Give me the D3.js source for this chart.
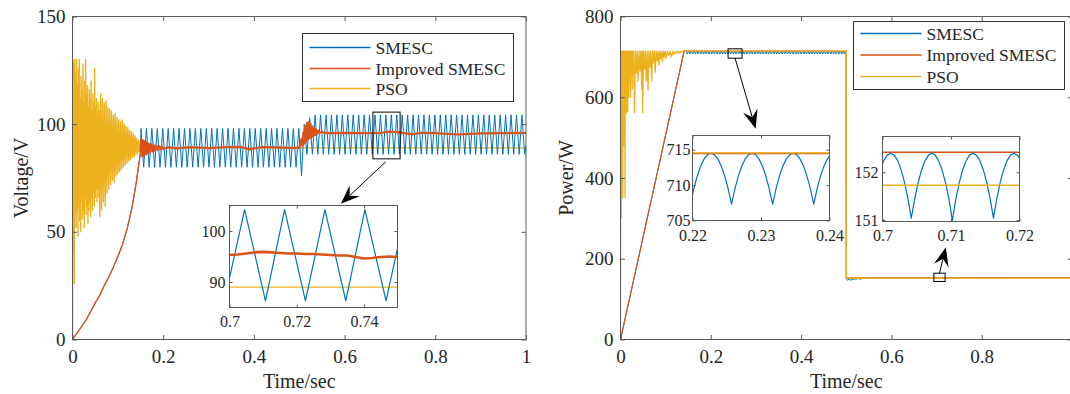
<!DOCTYPE html>
<html>
<head>
<meta charset="utf-8">
<script src="https://cdn.jsdelivr.net/npm/d3@7"></script>
<style>
  body { margin: 0; background: #fff; }
  svg { display: block; font-family: "Liberation Serif", "Times New Roman", serif; }
</style>
</head>
<body>
<svg id="chart" width="1070" height="394"></svg>
<script>
// ---------- data ----------
const seriesNames = ['SMESC', 'Improved SMESC', 'PSO'];

// left: voltage (V) vs time (s)
const voltXTicks = [0, 0.2, 0.4, 0.6, 0.8, 1];
const voltYTicks = [0, 50, 100, 150];
const voltRise = [[0,0],[0.01,3],[0.02,6],[0.03,9],[0.04,13],[0.05,17],[0.06,20.5],[0.07,25],[0.08,29],
  [0.09,33.5],[0.1,38.5],[0.11,44],[0.12,51],[0.13,60],[0.14,72],[0.148,84],[0.15,87]];
const smescVolt = [[0.151,98],[0.157,80],[0.163,98],[0.169,80],[0.175,98],[0.181,80],[0.187,98],[0.193,80],
  [0.199,98],[0.205,80],[0.211,98],[0.217,80],[0.223,98],[0.229,80],[0.235,98],[0.241,80],[0.247,98],[0.253,80],
  [0.259,98],[0.265,80],[0.271,98],[0.277,80],[0.283,98],[0.289,80],[0.295,98],[0.301,80],[0.307,98],[0.313,80],
  [0.319,98],[0.325,80],[0.331,98],[0.337,80],[0.343,98],[0.349,80],[0.355,98],[0.361,80],[0.367,98],[0.373,80],
  [0.379,98],[0.385,80],[0.391,98],[0.397,80],[0.403,98],[0.409,80],[0.415,98],[0.421,80],[0.427,98],[0.433,80],
  [0.439,98],[0.445,80],[0.451,98],[0.457,80],[0.463,98],[0.469,80],[0.475,98],[0.481,80],[0.487,98],[0.493,80],
  [0.499,98],[0.505,76],[0.511,100],[0.517,86],[0.523,103],[0.529,86],[0.535,104.3],[0.541,86],[0.547,104.3],
  [0.553,86],[0.559,104.3],[0.565,86],[0.571,104.3],[0.577,86],[0.583,104.3],[0.589,86],[0.595,104.3],[0.601,86],
  [0.607,104.3],[0.613,86],[0.619,104.3],[0.625,86],[0.631,104.3],[0.637,86],[0.643,104.3],[0.649,86],[0.655,104.3],
  [0.661,86],[0.667,104.3],[0.673,86],[0.679,104.3],[0.685,86],[0.691,104.3],[0.697,86],[0.703,104.3],[0.709,86],
  [0.715,104.3],[0.721,86],[0.727,104.3],[0.733,86],[0.739,104.3],[0.745,86],[0.751,104.3],[0.757,86],[0.763,104.3],
  [0.769,86],[0.775,104.3],[0.781,86],[0.787,104.3],[0.793,86],[0.799,104.3],[0.805,86],[0.811,104.3],[0.817,86],
  [0.823,104.3],[0.829,86],[0.835,104.3],[0.841,86],[0.847,104.3],[0.853,86],[0.859,104.3],[0.865,86],[0.871,104.3],
  [0.877,86],[0.883,104.3],[0.889,86],[0.895,104.3],[0.901,86],[0.907,104.3],[0.913,86],[0.919,104.3],[0.925,86],
  [0.931,104.3],[0.937,86],[0.943,104.3],[0.949,86],[0.955,104.3],[0.961,86],[0.967,104.3],[0.973,86],[0.979,104.3],
  [0.985,86],[0.991,104.3],[0.997,86],[1,90]];
const impVolt = [[0.15,87],[0.152,93],[0.154,85],[0.156,92.5],[0.158,85.5],[0.16,92],[0.162,86],[0.164,91.5],[0.166,86.5],
  [0.168,91],[0.17,87],[0.173,90.6],[0.176,87.4],[0.179,90.3],[0.182,87.7],[0.185,90],[0.188,88],[0.191,89.8],
  [0.194,88.3],[0.197,89.6],[0.2,88.5],[0.21,89.3],[0.23,88.8],[0.26,89.3],[0.3,88.9],[0.34,89.4],[0.37,89.5],
  [0.39,88.3],[0.4,88.7],[0.42,89.4],[0.45,89.2],[0.48,89],[0.5,89],[0.502,90.5],[0.505,93],[0.507,90],[0.509,96],
  [0.511,91],[0.513,99],[0.515,92],[0.517,100.5],[0.519,93],[0.521,101],[0.523,93.5],[0.525,100],[0.527,94],
  [0.529,99],[0.531,94.5],[0.533,98],[0.535,95],[0.537,97.5],[0.539,95.3],[0.541,97],[0.545,96],[0.55,96.3],
  [0.56,95.8],[0.6,96],[0.65,95.8],[0.68,96],[0.7,96.5],[0.72,96.2],[0.75,95.3],[0.77,96],[0.8,95.8],[0.85,95.2],
  [0.9,95.7],[0.95,95.8],[1,96]];
const psoVolt = [[0,0],[0.001,130],[0.002,40],[0.003,128],[0.004,26],[0.005,130],[0.006,58],[0.007,124],[0.008,52],
  [0.009,130],[0.01,60],[0.011,118],[0.012,48],[0.013,126],[0.014,62],[0.015,130],[0.016,55],[0.017,112],[0.018,50],
  [0.019,122],[0.02,64],[0.021,116],[0.022,56],[0.023,128],[0.024,60],[0.025,110],[0.026,52],[0.027,120],[0.028,66],
  [0.029,130],[0.03,58],[0.031,114],[0.032,62],[0.033,118],[0.034,54],[0.035,108],[0.036,60],[0.037,116],[0.038,64],
  [0.039,112],[0.04,57],[0.041,120],[0.042,66],[0.043,106],[0.044,60],[0.045,114],[0.046,68],[0.047,110],[0.048,62],
  [0.049,126],[0.05,66],[0.051,108],[0.052,70],[0.053,112],[0.054,64],[0.055,104],[0.056,70],[0.057,110],[0.058,66],
  [0.059,106],[0.06,57],[0.062,114],[0.064,60],[0.066,112],[0.068,64],[0.07,110],[0.072,62],[0.074,111],[0.076,68],
  [0.078,108],[0.08,70],[0.082,107],[0.084,72],[0.086,106],[0.088,74],[0.09,104],[0.092,73],[0.094,105],[0.096,76],
  [0.098,103],[0.1,77],[0.102,102],[0.104,78],[0.106,101],[0.108,79],[0.11,102],[0.112,80],[0.114,100],[0.116,81],
  [0.118,99],[0.12,82],[0.122,98.5],[0.124,83],[0.126,97],[0.128,83.5],[0.13,96.5],[0.132,84.5],[0.134,95.5],
  [0.136,85],[0.138,94.5],[0.14,86],[0.142,93.5],[0.144,86.5],[0.146,92.5],[0.148,87.2],[0.15,91.5],[0.152,87.8],
  [0.154,90.8],[0.156,88.3],[0.158,90.2],[0.16,88.7],[0.162,89.6],[0.165,89],[1,89]];

// left inset (0.70 .. 0.75 s)
const voltInsetXTicks = [0.7, 0.72, 0.74];
const voltInsetYTicks = [90, 100];
const smescVoltZoom = [[0.6985,86.3],[0.7045,104.2],[0.7107,86.3],[0.7164,104.2],[0.7226,86.3],[0.7284,104.2],
  [0.7346,86.3],[0.7403,104.2],[0.7466,86.3],[0.7525,104.2]];
const impVoltZoom = [[0.7,95.3],[0.7025,95.4],[0.705,95.6],[0.7075,95.8],[0.71,95.9],[0.7125,95.8],[0.715,95.7],
  [0.7175,95.6],[0.72,95.6],[0.7225,95.5],[0.725,95.5],[0.7275,95.4],[0.73,95.3],[0.7325,95.2],[0.735,95.2],
  [0.7375,94.9],[0.74,94.6],[0.7425,94.7],[0.745,94.9],[0.7475,95],[0.75,94.9]];
const psoVoltZoom = [[0.7,89],[0.75,89]];

// right: power (W) vs time (s)
const powXTicks = [0, 0.2, 0.4, 0.6, 0.8, 1];
const powXLabels = [0, 0.2, 0.4, 0.6, 0.8];
const powYTicks = [0, 200, 400, 600, 800];
const smescPow = [[0,0],[0.141,714.5],[0.145,714.5],[0.148,707.3],[0.151,714.5],[0.154,707.3],[0.157,714.5],
  [0.16,707.3],[0.163,714.5],[0.166,707.3],[0.169,714.5],[0.172,707.3],[0.175,714.5],[0.178,707.3],[0.181,714.5],
  [0.184,707.3],[0.187,714.5],[0.19,707.3],[0.193,714.5],[0.196,707.3],[0.199,714.5],[0.202,707.3],[0.205,714.5],
  [0.208,707.3],[0.211,714.5],[0.214,707.3],[0.217,714.5],[0.22,707.3],[0.223,714.5],[0.226,707.3],[0.229,714.5],
  [0.232,707.3],[0.235,714.5],[0.238,707.3],[0.241,714.5],[0.244,707.3],[0.247,714.5],[0.25,707.3],[0.253,714.5],
  [0.256,707.3],[0.259,714.5],[0.262,707.3],[0.265,714.5],[0.268,707.3],[0.271,714.5],[0.274,707.3],[0.277,714.5],
  [0.28,707.3],[0.283,714.5],[0.286,707.3],[0.289,714.5],[0.292,707.3],[0.295,714.5],[0.298,707.3],[0.301,714.5],
  [0.304,707.3],[0.307,714.5],[0.31,707.3],[0.313,714.5],[0.316,707.3],[0.319,714.5],[0.322,707.3],[0.325,714.5],
  [0.328,707.3],[0.331,714.5],[0.334,707.3],[0.337,714.5],[0.34,707.3],[0.343,714.5],[0.346,707.3],[0.349,714.5],
  [0.352,707.3],[0.355,714.5],[0.358,707.3],[0.361,714.5],[0.364,707.3],[0.367,714.5],[0.37,707.3],[0.373,714.5],
  [0.376,707.3],[0.379,714.5],[0.382,707.3],[0.385,714.5],[0.388,707.3],[0.391,714.5],[0.394,707.3],[0.397,714.5],
  [0.4,707.3],[0.403,714.5],[0.406,707.3],[0.409,714.5],[0.412,707.3],[0.415,714.5],[0.418,707.3],[0.421,714.5],
  [0.424,707.3],[0.427,714.5],[0.43,707.3],[0.433,714.5],[0.436,707.3],[0.439,714.5],[0.442,707.3],[0.445,714.5],
  [0.448,707.3],[0.451,714.5],[0.454,707.3],[0.457,714.5],[0.46,707.3],[0.463,714.5],[0.466,707.3],[0.469,714.5],
  [0.472,707.3],[0.475,714.5],[0.478,707.3],[0.481,714.5],[0.484,707.3],[0.487,714.5],[0.49,707.3],[0.493,714.5],
  [0.496,707.3],[0.499,714.5],[0.5,712],[0.5005,150],[0.503,146.5],[0.506,150],[0.509,146],[0.512,150],[0.515,147],
  [0.518,150.5],[0.521,148],[0.525,151.5],[0.53,149.5],[0.54,151.8],[1,152]];
const impPow = [[0,0],[0.141,714.5],[0.5,714.5],[0.5,152.4],[1,152.4]];
const psoPow = [[0,0],[0.0005,714],[0.001,560],[0.0015,714],[0.002,300],[0.0025,714],[0.003,600],[0.0035,714],
  [0.004,420],[0.0045,714],[0.005,352],[0.0055,714],[0.006,590],[0.0065,714],[0.007,480],[0.0075,714],[0.008,565],
  [0.0085,714],[0.009,610],[0.0095,714],[0.01,352],[0.0105,714],[0.011,575],[0.0115,714],[0.012,600],[0.0125,714],
  [0.013,560],[0.0135,714],[0.014,620],[0.0145,714],[0.015,590],[0.0155,714],[0.016,565],[0.0165,714],[0.017,630],
  [0.0175,714],[0.018,600],[0.019,714],[0.02,640],[0.021,714],[0.022,600],[0.023,714],[0.024,650],[0.025,714],
  [0.026,620],[0.027,714],[0.028,660],[0.029,714],[0.031,562],[0.033,714],[0.035,660],[0.037,714],[0.039,640],
  [0.041,714],[0.043,665],[0.045,714],[0.047,620],[0.048,714],[0.049,562],[0.051,714],[0.053,670],[0.055,714],
  [0.057,640],[0.059,714],[0.061,618],[0.063,714],[0.065,675],[0.067,714],[0.069,640],[0.071,714],[0.073,685],
  [0.075,714],[0.077,662],[0.079,714],[0.081,690],[0.083,714],[0.085,680],[0.087,714],[0.089,695],[0.091,714],
  [0.093,688],[0.095,714],[0.097,700],[0.099,714],[0.101,696],[0.104,714],[0.107,703],[0.11,714],[0.113,700],
  [0.116,714],[0.119,706],[0.122,714],[0.125,709],[0.128,714],[0.131,710],[0.134,714],[0.137,712],[0.14,714.5],
  [0.5,714.5],[0.5,151.7],[1,151.7]];

// right inset 1 (0.22 .. 0.24 s)
const powZoom1XTicks = [0.22, 0.23, 0.24];
const powZoom1YTicks = [705, 710, 715];
const smescPowZoom1 = [[0.2197,707.3],[0.2202,709.5],[0.2207,711.3],[0.2212,712.7],[0.2217,713.7],[0.2222,714.3],
  [0.2227,714.5],[0.2232,714.3],[0.2237,713.7],[0.2242,712.7],[0.2247,711.3],[0.2252,709.5],[0.2257,707.3],
  [0.2262,709.5],[0.2267,711.3],[0.2272,712.7],[0.2277,713.7],[0.2282,714.3],[0.2287,714.5],[0.2292,714.3],
  [0.2297,713.7],[0.2302,712.7],[0.2307,711.3],[0.2312,709.5],[0.2317,707.3],[0.2322,709.5],[0.2327,711.3],
  [0.2332,712.7],[0.2337,713.7],[0.2342,714.3],[0.2347,714.5],[0.2352,714.3],[0.2357,713.7],[0.2362,712.7],
  [0.2367,711.3],[0.2372,709.5],[0.2377,707.3],[0.2382,709.5],[0.2387,711.3],[0.2392,712.7],[0.2397,713.7],
  [0.2402,714.3],[0.2407,714.5]];
const impPowZoom1 = [[0.22,714.45],[0.24,714.45]];
const psoPowZoom1 = [[0.22,714.55],[0.24,714.55]];

// right inset 2 (0.70 .. 0.72 s)
const powZoom2XTicks = [0.7, 0.71, 0.72];
const powZoom2YTicks = [151, 152];
const smescPowZoom2 = [[0.6982,151.04],[0.6987,151.46],[0.6992,151.8],[0.6997,152.06],[0.7002,152.25],[0.7007,152.36],
  [0.7012,152.4],[0.7017,152.36],[0.7022,152.25],[0.7027,152.06],[0.7032,151.8],[0.7037,151.46],[0.7042,151.04],
  [0.7047,151.44],[0.7052,151.78],[0.7057,152.05],[0.7062,152.24],[0.7067,152.36],[0.7072,152.4],[0.7077,152.36],
  [0.7082,152.24],[0.7087,152.05],[0.7092,151.78],[0.7097,151.44],[0.7102,150.99],[0.7107,151.44],[0.7112,151.78],
  [0.7117,152.05],[0.7122,152.24],[0.7127,152.36],[0.7132,152.4],[0.7137,152.36],[0.7142,152.25],[0.7147,152.06],
  [0.7152,151.8],[0.7157,151.46],[0.7162,151.04],[0.7167,151.46],[0.7172,151.8],[0.7177,152.06],[0.7182,152.25],
  [0.7187,152.36],[0.7192,152.4],[0.7197,152.36],[0.7202,152.25],[0.7207,152.06]];
const impPowZoom2 = [[0.7,152.42],[0.72,152.42]];
const psoPowZoom2 = [[0.7,151.73],[0.72,151.73]];

// ---------- layout ----------
const colors = ['#0072BD', '#D95319', '#EDB120'];
const axisCol = '#5a5a5a', textCol = '#262626';
const serif = '"Liberation Serif", "Times New Roman", serif';
const svg = d3.select('#chart');
const defs = svg.append('defs');

const xL = d3.scaleLinear().domain([0, 1]).range([72.5, 526]);
const yL = d3.scaleLinear().domain([0, 150]).range([339.5, 16.5]);
const xR = d3.scaleLinear().domain([0, 1]).range([620.5, 1072]);
const yR = d3.scaleLinear().domain([0, 800]).range([339.5, 16.5]);

let clipId = 0;
function plotArea(x, y, bg) {
  const [xa, xb] = x.range(), [ya, yb] = y.range();
  const g = svg.append('g');
  if (bg) g.append('rect').attr('x', xa).attr('y', yb).attr('width', xb - xa).attr('height', ya - yb).attr('fill', '#fff');
  const id = 'clip' + clipId++;
  defs.append('clipPath').attr('id', id).append('rect')
    .attr('x', xa).attr('y', yb).attr('width', xb - xa).attr('height', ya - yb);
  const lines = g.append('g').attr('clip-path', `url(#${id})`);
  return { g, lines };
}

function drawLine(g, x, y, data, color, width) {
  const line = d3.line().x(d => x(d[0])).y(d => y(d[1]));
  g.append('path').datum(data).attr('d', line).attr('fill', 'none')
    .attr('stroke', color).attr('stroke-width', width).attr('stroke-linejoin', 'round');
}

function drawAxes(g, x, y, o) {
  const [xa, xb] = x.range(), [ya, yb] = y.range();
  const fmt = d => (o.xLabels && !o.xLabels.includes(d)) ? '' : String(d);
  const bottom = g.append('g').attr('transform', `translate(0,${ya})`)
    .call(d3.axisBottom(x).tickValues(o.xTicks).tickSizeInner(-o.tk).tickSizeOuter(0).tickPadding(o.xPad).tickFormat(fmt));
  const left = g.append('g').attr('transform', `translate(${xa},0)`)
    .call(d3.axisLeft(y).tickValues(o.yTicks).tickSizeInner(-o.tk).tickSizeOuter(0).tickPadding(o.yPad).tickFormat(d => String(d)));
  const top = g.append('g').attr('transform', `translate(0,${yb})`)
    .call(d3.axisTop(x).tickValues(o.xTicks).tickSizeInner(-o.tk).tickSizeOuter(0).tickFormat(''));
  const right = g.append('g').attr('transform', `translate(${xb},0)`)
    .call(d3.axisRight(y).tickValues(o.yTicks).tickSizeInner(-o.tk).tickSizeOuter(0).tickFormat(''));
  [bottom, left, top, right].forEach(a => {
    a.attr('font-family', serif).attr('font-size', o.font);
    a.select('.domain').remove();
    a.selectAll('line').attr('stroke', axisCol);
    a.selectAll('text').attr('fill', textCol).style('font-size', o.font + 'px').style('font-family', serif);
  });
  g.append('rect').attr('x', xa).attr('y', yb).attr('width', xb - xa).attr('height', ya - yb)
    .attr('fill', 'none').attr('stroke', axisCol).attr('stroke-width', 1);
}

function legend(x0, y0, w, rows) {
  const g = svg.append('g');
  g.append('rect').attr('x', x0).attr('y', y0).attr('width', w).attr('height', 68)
    .attr('fill', '#fff').attr('stroke', '#333').attr('stroke-width', 1);
  seriesNames.forEach((name, i) => {
    const ry = y0 + rows[i];
    g.append('line').attr('x1', x0 + 7).attr('x2', x0 + 68).attr('y1', ry).attr('y2', ry)
      .attr('stroke', colors[i]).attr('stroke-width', 1.5);
    g.append('text').attr('x', x0 + 73).attr('y', ry).attr('dy', '0.35em')
      .style('font-size', '17.5px').attr('fill', textCol).text(name);
  });
}

function zoomMarker(x, y, box, from, to) {
  const g = svg.append('g');
  g.append('rect').attr('x', x(box[0])).attr('y', y(box[3]))
    .attr('width', x(box[1]) - x(box[0])).attr('height', y(box[2]) - y(box[3]))
    .attr('fill', 'none').attr('stroke', '#000').attr('stroke-width', 1);
  const sx = x(from[0]), sy = y(from[1]), ex = x(to[0]), ey = y(to[1]);
  const len = Math.hypot(ex - sx, ey - sy), ux = (ex - sx) / len, uy = (ey - sy) / len;
  const L = 19, Wd = 7.5, N = 12;
  g.append('line').attr('x1', sx).attr('y1', sy).attr('x2', ex - ux * N).attr('y2', ey - uy * N)
    .attr('stroke', '#000').attr('stroke-width', 1);
  const pts = [[ex, ey], [ex - ux * L - uy * Wd, ey - uy * L + ux * Wd], [ex - ux * N, ey - uy * N],
    [ex - ux * L + uy * Wd, ey - uy * L - ux * Wd]];
  g.append('path').attr('d', 'M' + pts.map(p => p.join(',')).join('L') + 'Z').attr('fill', '#000');
}

function axisTitles(x, y, xText, yText, yX) {
  const [xa, xb] = x.range(), [ya, yb] = y.range();
  svg.append('text').attr('x', (xa + xb) / 2).attr('y', 388).attr('text-anchor', 'middle')
    .style('font-size', '20px').attr('fill', textCol).text(xText);
  svg.append('text').attr('transform', `translate(${yX},${(ya + yb) / 2}) rotate(-90)`)
    .attr('text-anchor', 'middle').attr('dy', '0.35em')
    .style('font-size', '20px').attr('fill', textCol).text(yText);
}

// ---------- left chart: voltage ----------
const pL = plotArea(xL, yL, false);
drawLine(pL.lines, xL, yL, psoVolt, colors[2], 1.4);
drawLine(pL.lines, xL, yL, voltRise.concat(smescVolt), colors[0], 1);
drawLine(pL.lines, xL, yL, voltRise, colors[1], 1.3);
drawLine(pL.lines, xL, yL, impVolt, colors[1], 2.2);
drawAxes(pL.g, xL, yL, { xTicks: voltXTicks, yTicks: voltYTicks, tk: 4.5, xPad: 10, yPad: 7, font: 19 });
axisTitles(xL, yL, 'Time/sec', 'Voltage/V', 21);
legend(302.5, 33.5, 211, [14, 35, 55]);
zoomMarker(xL, yL, [0.6624, 0.7224, 83.9, 105.6], [0.6906, 82.5], [0.5918, 63.0]);

const xLi = d3.scaleLinear().domain([0.7, 0.75]).range([229.5, 397.5]);
const yLi = d3.scaleLinear().domain([85, 105]).range([307.5, 205.5]);
const iL = plotArea(xLi, yLi, true);
drawLine(iL.lines, xLi, yLi, psoVoltZoom, colors[2], 1.2);
drawLine(iL.lines, xLi, yLi, smescVoltZoom, colors[0], 1.2);
drawLine(iL.lines, xLi, yLi, impVoltZoom, colors[1], 2.6);
drawAxes(iL.g, xLi, yLi, { xTicks: voltInsetXTicks, yTicks: voltInsetYTicks, tk: 3, xPad: 8, yPad: 4, font: 16 });

// ---------- right chart: power ----------
const pR = plotArea(xR, yR, false);
drawLine(pR.lines, xR, yR, smescPow, colors[0], 1);
drawLine(pR.lines, xR, yR, impPow, colors[1], 1.2);
drawLine(pR.lines, xR, yR, psoPow, colors[2], 1.3);
drawAxes(pR.g, xR, yR, { xTicks: powXTicks, xLabels: powXLabels, yTicks: powYTicks, tk: 4.5, xPad: 10, yPad: 7, font: 19 });
axisTitles(xR, yR, 'Time/sec', 'Power/W', 566);
legend(853.5, 21.5, 211, [12, 33.5, 55]);
zoomMarker(xR, yR, [0.2383, 0.2692, 696.7, 720], [0.2538, 696.7], [0.2993, 521.9]);
zoomMarker(xR, yR, [0.694, 0.719, 143.7, 164.2], [0.7064, 164.2], [0.7206, 228.6]);

const xRi1 = d3.scaleLinear().domain([0.22, 0.24]).range([692.5, 829.5]);
const yRi1 = d3.scaleLinear().domain([705, 717]).range([220.5, 135.5]);
const iR1 = plotArea(xRi1, yRi1, true);
drawLine(iR1.lines, xRi1, yRi1, smescPowZoom1, colors[0], 1.2);
drawLine(iR1.lines, xRi1, yRi1, impPowZoom1, colors[1], 1.4);
drawLine(iR1.lines, xRi1, yRi1, psoPowZoom1, colors[2], 1.4);
drawAxes(iR1.g, xRi1, yRi1, { xTicks: powZoom1XTicks, yTicks: powZoom1YTicks, tk: 3, xPad: 9, yPad: 2, font: 16 });

const xRi2 = d3.scaleLinear().domain([0.7, 0.72]).range([882.5, 1019.5]);
const yRi2 = d3.scaleLinear().domain([150.97, 152.75]).range([221.5, 136.5]);
const iR2 = plotArea(xRi2, yRi2, true);
drawLine(iR2.lines, xRi2, yRi2, smescPowZoom2, colors[0], 1.2);
drawLine(iR2.lines, xRi2, yRi2, impPowZoom2, colors[1], 1.4);
drawLine(iR2.lines, xRi2, yRi2, psoPowZoom2, colors[2], 1.4);
drawAxes(iR2.g, xRi2, yRi2, { xTicks: powZoom2XTicks, yTicks: powZoom2YTicks, tk: 3, xPad: 8, yPad: 4, font: 16 });
</script>
</body>
</html>
